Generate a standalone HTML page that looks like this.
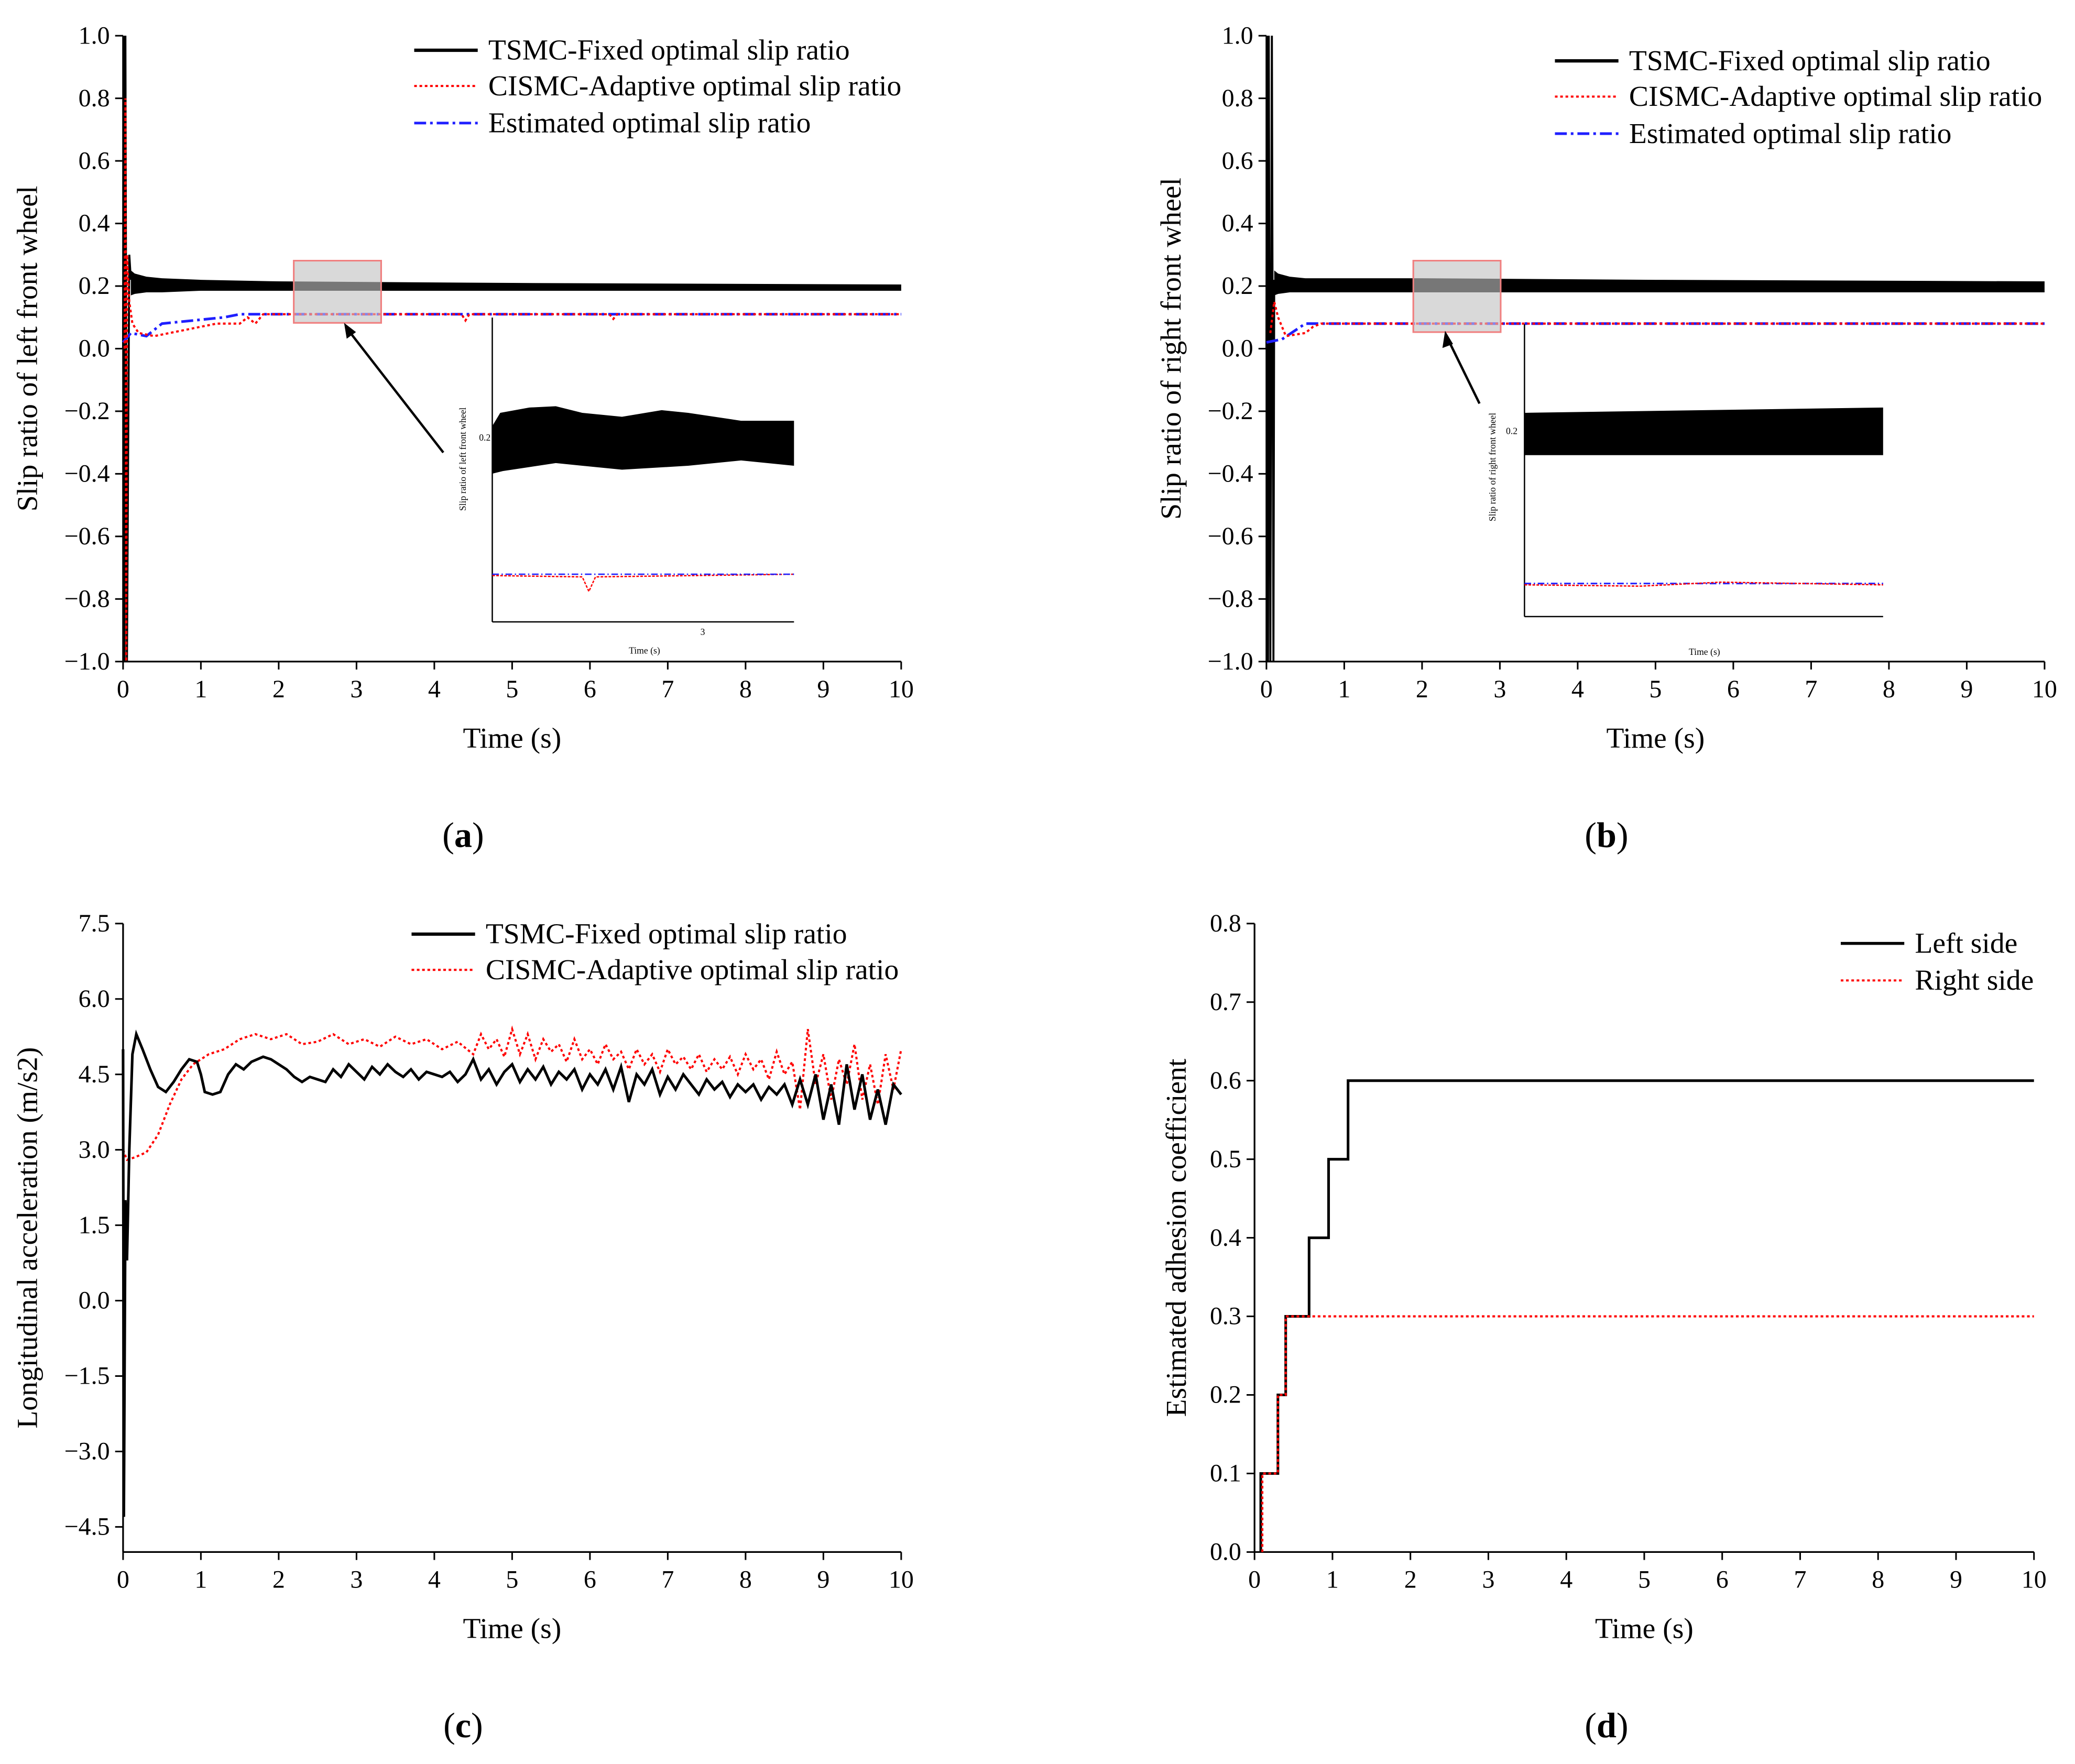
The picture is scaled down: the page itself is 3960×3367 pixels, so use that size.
<!DOCTYPE html>
<html><head><meta charset="utf-8"><style>
html,body{margin:0;padding:0;background:#fff}
svg{display:block;font-family:"Liberation Serif",serif}
</style></head><body>
<svg id="fig" width="3960" height="3367" viewBox="0 0 1568 1333.2" xmlns="http://www.w3.org/2000/svg">
<rect width="1568" height="1334" fill="#fff"/>
</svg>
<script>
// ---- data ----
const timeTicks=[0,1,2,3,4,5,6,7,8,9,10];
const slipTicks=[1.0,0.8,0.6,0.4,0.2,0.0,-0.2,-0.4,-0.6,-0.8,-1.0];
const accTicks=[7.5,6.0,4.5,3.0,1.5,0.0,-1.5,-3.0,-4.5];
const adhTicks=[0.8,0.7,0.6,0.5,0.4,0.3,0.2,0.1,0.0];
// panel a
const aBandT=[0.1,0.15,0.3,0.5,1,2,5,10];
const aBandUp=[0.25,0.24,0.23,0.225,0.22,0.215,0.21,0.205];
const aBandLo=[0.17,0.175,0.18,0.18,0.185,0.185,0.185,0.185];
const aSpikeT=[0,0.01,0.02,0.03,0.05,0.08,0.1];
const aSpikeV=[0,1.0,-1.0,1.0,-1.0,0.3,0.22];
const aRedT=[0.02,0.03,0.04,0.05,0.08,0.12,0.2,0.4,0.8,1.2,1.5,1.6,1.7,1.8,2,4.35,4.4,4.45,6.25,6.3,6.35,10];
const aRedV=[0,0.8,-1.0,0.3,0.15,0.08,0.05,0.04,0.06,0.08,0.08,0.1,0.08,0.11,0.11,0.11,0.09,0.11,0.11,0.095,0.11,0.11];
const aBlueT=[0,0.1,0.3,0.5,1.3,1.5,10];
const aBlueV=[0.02,0.05,0.04,0.08,0.1,0.11,0.11];
// panel b
const bBandT=[0.1,0.15,0.3,0.5,1,2,5,10];
const bBandUp=[0.25,0.24,0.23,0.225,0.225,0.225,0.22,0.215];
const bBandLo=[0.17,0.175,0.18,0.18,0.18,0.18,0.18,0.18];
const bSpikeT=[0,0.01,0.02,0.03,0.05,0.07,0.09,0.1];
const bSpikeV=[0,1.0,-1.0,1.0,-1.0,1.0,-1.0,0.22];
const bRedT=[0.05,0.1,0.15,0.25,0.5,0.6,0.7,1,10];
const bRedV=[0.05,0.15,0.1,0.04,0.05,0.07,0.08,0.08,0.08];
const bBlueT=[0,0.2,0.5,10];
const bBlueV=[0.02,0.03,0.08,0.08];
// panel c
const cBlackT=[0,0.01,0.03,0.05,0.08,0.12,0.17,0.25,0.35,0.45,0.55,0.65,0.75,0.85,0.95,1.0,1.05,1.15,1.25,1.35,1.45,1.55,1.65,1.8,1.9,2.0,2.1,2.2,2.3,2.4,2.5,2.6,2.7,2.8,2.9,3.0,3.1,3.2,3.3,3.4,3.5,3.6,3.7,3.8,3.9,4.0,4.1,4.2,4.3,4.4,4.5,4.6,4.7,4.8,4.9,5.0,5.1,5.2,5.3,5.4,5.5,5.6,5.7,5.8,5.9,6.0,6.1,6.2,6.3,6.4,6.5,6.6,6.7,6.8,6.9,7.0,7.1,7.2,7.3,7.4,7.5,7.6,7.7,7.8,7.9,8.0,8.1,8.2,8.3,8.4,8.5,8.6,8.7,8.8,8.9,9.0,9.1,9.2,9.3,9.4,9.5,9.6,9.7,9.8,9.9,10.0];
const cBlackV=[5.0,-4.3,2.0,0.8,3.0,4.9,5.3,5.0,4.6,4.25,4.15,4.35,4.6,4.8,4.75,4.5,4.15,4.1,4.15,4.5,4.7,4.6,4.75,4.85,4.8,4.7,4.6,4.45,4.35,4.45,4.4,4.35,4.6,4.45,4.7,4.55,4.4,4.65,4.5,4.7,4.55,4.45,4.6,4.4,4.55,4.5,4.45,4.55,4.35,4.5,4.8,4.4,4.6,4.3,4.55,4.7,4.35,4.6,4.4,4.65,4.3,4.55,4.4,4.6,4.2,4.5,4.3,4.6,4.2,4.65,3.95,4.5,4.3,4.6,4.1,4.45,4.2,4.5,4.3,4.1,4.4,4.2,4.35,4.05,4.3,4.15,4.3,4.0,4.25,4.1,4.3,3.9,4.4,3.9,4.5,3.6,4.3,3.5,4.7,3.8,4.5,3.6,4.2,3.5,4.3,4.1];
const cRedT=[0,0.05,0.15,0.3,0.45,0.6,0.75,0.9,1.1,1.3,1.5,1.7,1.9,2.1,2.3,2.5,2.7,2.9,3.1,3.3,3.5,3.7,3.9,4.1,4.3,4.5,4.6,4.7,4.8,4.9,5.0,5.1,5.2,5.3,5.4,5.5,5.6,5.7,5.8,5.9,6.0,6.1,6.2,6.3,6.4,6.5,6.6,6.7,6.8,6.9,7.0,7.1,7.2,7.3,7.4,7.5,7.6,7.7,7.8,7.9,8.0,8.1,8.2,8.3,8.4,8.5,8.6,8.7,8.8,8.9,9.0,9.1,9.2,9.3,9.4,9.5,9.6,9.7,9.8,9.9,10.0];
const cRedV=[3.0,2.8,2.85,2.95,3.3,3.9,4.4,4.7,4.9,5.0,5.2,5.3,5.2,5.3,5.1,5.15,5.3,5.1,5.2,5.05,5.25,5.1,5.2,5.0,5.15,4.9,5.3,5.0,5.2,4.85,5.4,4.9,5.3,4.8,5.2,4.95,5.1,4.75,5.2,4.8,5.0,4.7,5.1,4.8,4.95,4.6,5.0,4.7,4.9,4.55,5.0,4.7,4.85,4.6,4.9,4.55,4.8,4.6,4.85,4.5,4.9,4.6,4.8,4.4,4.95,4.5,4.75,3.8,5.4,4.3,4.9,4.0,4.8,4.3,5.1,4.0,4.7,3.9,4.9,4.2,5.0];
// panel d
const dLeftT=[0.08,0.08,0.3,0.3,0.4,0.4,0.7,0.7,0.95,0.95,1.2,1.2,10];
const dLeftV=[0,0.1,0.1,0.2,0.2,0.3,0.3,0.4,0.4,0.5,0.5,0.6,0.6];
const dRightT=[0.1,0.1,0.3,0.3,0.4,0.4,10];
const dRightV=[0,0.1,0.1,0.2,0.2,0.3,0.3];

const NS="http://www.w3.org/2000/svg";
const svg=document.getElementById('fig');
function el(tag,attrs,parent,text){const e=document.createElementNS(NS,tag);for(const k in attrs)e.setAttribute(k,attrs[k]);if(text!==undefined)e.textContent=text;(parent||svg).appendChild(e);return e;}
function mkAxis(x0,x1,y0,y1,vmin,vmax){return{x:t=>x0+(t-0)/(10-0)*(x1-x0),y:v=>y1-(v-vmin)/(vmax-vmin)*(y1-y0)};}
function pathD(ax,T,V){return T.map((t,i)=>(i?'L':'M')+ax.x(t).toFixed(2)+' '+ax.y(V[i]).toFixed(2)).join('');}
function band(ax,T,U,L){let d=T.map((t,i)=>(i?'L':'M')+ax.x(t)+' '+ax.y(U[i])).join('');for(let i=T.length-1;i>=0;i--)d+='L'+ax.x(T[i])+' '+ax.y(L[i]);return d+'Z';}
function frame(name,ax,x0,x1,y0,y1,yt,fmt,xlabel,ylabel,ylx){
  const g=el('g',{});
  
  
  el('line',{x1:x0,y1:y0,x2:x0,y2:y1,stroke:'#000','stroke-width':1.3},g);
  el('line',{x1:x0,y1:y1,x2:x1,y2:y1,stroke:'#000','stroke-width':1.3},g);
  timeTicks.forEach(t=>{const x=ax.x(t);el('line',{x1:x,y1:y1,x2:x,y2:y1+6,stroke:'#000','stroke-width':1.2},g);
    const tx=el('text',{x:x,y:y1+27,'font-size':19,'text-anchor':'middle'},g,String(t));
    
    });
  yt.forEach(v=>{const y=ax.y(v);el('line',{x1:x0,y1:y,x2:x0-6,y2:y,stroke:'#000','stroke-width':1.2},g);
    const tx=el('text',{x:x0-10,y:y+6,'font-size':19,'text-anchor':'end'},g,fmt(v));
    
    });
  const xl=el('text',{x:(x0+x1)/2,y:y1+65,'font-size':22,'text-anchor':'middle'},g,xlabel);
  
  
  const yl=el('text',{x:0,y:0,'font-size':22,'text-anchor':'middle',transform:`translate(${ylx},${(y0+y1)/2}) rotate(-90)`},g,ylabel);
  
  
  return g;
}
function fmtS(v){return (v<0?'\u2212':'')+Math.abs(v).toFixed(1);}
function line(g,ax,T,V,color,dash,w,name){const p=el('path',{d:pathD(ax,T,V),fill:'none',stroke:color,'stroke-width':w||1.5,'stroke-dasharray':dash||'none'},g);
  
  return p;}
function legend(g,x,y,color,dash,label,w){const l=el('line',{x1:x,y1:y,x2:x+48,y2:y,stroke:color,'stroke-width':w||2,'stroke-dasharray':dash||'none'},g);
  
  
  const t=el('text',{x:x+56,y:y+7,'font-size':22},g,label);
  
  }
function caption(x,y,l){const t=el('text',{x:x,y:y,'font-size':27,'text-anchor':'middle'});
  
  
  el('tspan',{},t,'(');el('tspan',{'font-weight':'bold'},t,l);el('tspan',{},t,')');}

// ---- panel a ----
const A=mkAxis(93,681,27,500,-1,1);
const ga=frame('panel-a',A,93,681,27,500,slipTicks,fmtS,'Time (s)','Slip ratio of left front wheel',28);
el('rect',{x:222,y:197,width:66,height:47,fill:'#d9d9d9',stroke:'#f08080','stroke-width':1.2},ga);
const ba=el('path',{d:band(A,aBandT,aBandUp,aBandLo),fill:'#000'},ga);

line(ga,A,aSpikeT,aSpikeV,'#000',null,1.5,'tsmc-spike');
line(ga,A,aBlueT,aBlueV,'#1f1fff','9 3 2 3',2,'estimated-series');
line(ga,A,aRedT,aRedV,'#ff0000','2 2',1.6,'cismc-series');
el('rect',{x:222,y:197,width:66,height:47,fill:'#d9d9d9','fill-opacity':0.55,stroke:'#f08080','stroke-width':1.2},ga);
el('line',{x1:335,y1:342,x2:262,y2:248,stroke:'#000','stroke-width':1.8},ga);
el('path',{d:'M260 244 L262 256 L269 251 Z',fill:'#000'},ga);
// inset a
const ia=el('g',{},ga);


el('line',{x1:372,y1:240,x2:372,y2:470,stroke:'#000','stroke-width':1},ia);
el('line',{x1:372,y1:470,x2:600,y2:470,stroke:'#000','stroke-width':1},ia);
el('path',{d:'M372 322 L378 312 L400 308 L420 307 L440 312 L470 315 L500 310 L520 312 L560 318 L600 318 L600 352 L560 348 L520 352 L470 355 L440 352 L420 350 L380 356 L372 358 Z',fill:'#000'},ia);
el('path',{d:'M372 435 L440 436 L445 447 L450 436 L600 434',fill:'none',stroke:'#ff0000','stroke-width':1,'stroke-dasharray':'2 1'},ia);
el('path',{d:'M372 434 L600 434',fill:'none',stroke:'#1f1fff','stroke-width':1,'stroke-dasharray':'5 2 1 2'},ia);
el('text',{x:355,y:350,'font-size':7,transform:'rotate(-90 352 350)','text-anchor':'middle'},ia,'Slip ratio of left front wheel');
el('text',{x:362,y:333,'font-size':7},ia,'0.2');
el('text',{x:487,y:494,'font-size':7,'text-anchor':'middle'},ia,'Time (s)');
el('text',{x:531,y:480,'font-size':7,'text-anchor':'middle'},ia,'3');
legend(ga,313,38,'#000',null,'TSMC-Fixed optimal slip ratio',2.5);
legend(ga,313,65,'#ff0000','2 2','CISMC-Adaptive optimal slip ratio',1.6);
legend(ga,313,93,'#1f1fff','9 3 2 3','Estimated optimal slip ratio',2);

// ---- panel b ----
const B=mkAxis(957,1545,27,500,-1,1);
const gb=frame('panel-b',B,957,1545,27,500,slipTicks,fmtS,'Time (s)','Slip ratio of right front wheel',892);
el('rect',{x:1068,y:197,width:66,height:54,fill:'#d9d9d9',stroke:'#f08080','stroke-width':1.2},gb);
el('path',{d:band(B,bBandT,bBandUp,bBandLo),fill:'#000'},gb);
line(gb,B,bSpikeT,bSpikeV,'#000',null,1.5,'tsmc-spike');
line(gb,B,bBlueT,bBlueV,'#1f1fff','9 3 2 3',2,'estimated-series');
line(gb,B,bRedT,bRedV,'#ff0000','2 2',1.6,'cismc-series');
el('rect',{x:1068,y:197,width:66,height:54,fill:'#d9d9d9','fill-opacity':0.55,stroke:'#f08080','stroke-width':1.2},gb);
el('line',{x1:1118,y1:305,x2:1094,y2:256,stroke:'#000','stroke-width':1.8},gb);
el('path',{d:'M1092 250 L1090 263 L1098 260 Z',fill:'#000'},gb);
const ib=el('g',{},gb);


el('line',{x1:1152,y1:245,x2:1152,y2:466,stroke:'#000','stroke-width':1},ib);
el('line',{x1:1152,y1:466,x2:1423,y2:466,stroke:'#000','stroke-width':1},ib);
el('path',{d:'M1152 312 L1423 308 L1423 344 L1152 344 Z',fill:'#000'},ib);
el('path',{d:'M1152 441 L1423 441',fill:'none',stroke:'#1f1fff','stroke-width':1.2,'stroke-dasharray':'5 2 1 2'},ib);
el('path',{d:'M1152 442 L1240 443 L1300 440 L1423 442',fill:'none',stroke:'#ff0000','stroke-width':1,'stroke-dasharray':'2 1'},ib);
el('text',{x:1132,y:355,'font-size':7,transform:'rotate(-90 1130 355)','text-anchor':'middle'},ib,'Slip ratio of right front wheel');
el('text',{x:1138,y:328,'font-size':7},ib,'0.2');
el('text',{x:1288,y:495,'font-size':7,'text-anchor':'middle'},ib,'Time (s)');
legend(gb,1175,46,'#000',null,'TSMC-Fixed optimal slip ratio',2.5);
legend(gb,1175,73,'#ff0000','2 2','CISMC-Adaptive optimal slip ratio',1.6);
legend(gb,1175,101,'#1f1fff','9 3 2 3','Estimated optimal slip ratio',2);

// ---- panel c ----
const C=mkAxis(93,681,698,1173,-5.0,7.5);
const gc=frame('panel-c',C,93,681,698,1173,accTicks,fmtS,'Time (s)','Longitudinal acceleration (m/s2)',28);
line(gc,C,cRedT,cRedV,'#ff0000','2 2',1.6,'cismc-series');
line(gc,C,cBlackT,cBlackV,'#000',null,2,'tsmc-series');
legend(gc,311,706,'#000',null,'TSMC-Fixed optimal slip ratio',2.5);
legend(gc,311,733,'#ff0000','2 2','CISMC-Adaptive optimal slip ratio',1.6);

// ---- panel d ----
const D=mkAxis(948,1537,698,1173,0,0.8);
const gd=frame('panel-d',D,948,1537,698,1173,adhTicks,v=>v.toFixed(1),'Time (s)','Estimated adhesion coefficient',896);
line(gd,D,dLeftT,dLeftV,'#000',null,2,'left-side-series');
line(gd,D,dRightT,dRightV,'#ff0000','2 2',1.6,'right-side-series');
legend(gd,1391,713,'#000',null,'Left side',2.2);
legend(gd,1391,741,'#ff0000','2 2','Right side',1.6);

caption(350,640,'a');caption(1214,640,'b');caption(350,1313,'c');caption(1214,1313,'d');
</script>
</body></html>
